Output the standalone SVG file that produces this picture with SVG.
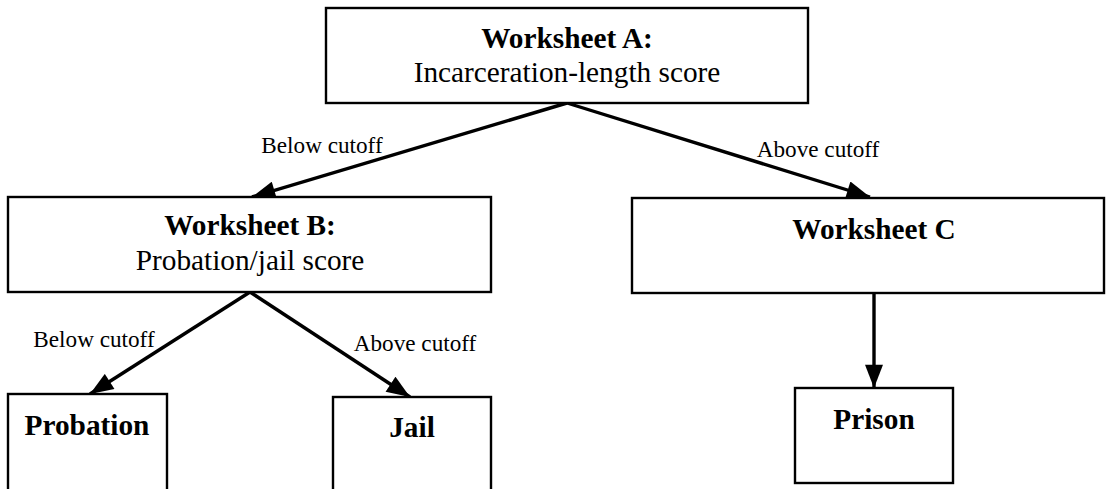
<svg xmlns="http://www.w3.org/2000/svg" width="1106" height="489" viewBox="0 0 1106 489">
<defs>
<style>
.box{fill:#fff;stroke:#000;stroke-width:2.4}
.t{font-family:"Liberation Serif","Times New Roman",serif;fill:#000;text-anchor:middle}
.b{font-weight:bold;font-size:29.3px}
.r{font-size:29.3px}
.lab{font-family:"Liberation Serif","Times New Roman",serif;font-size:23.2px;fill:#000;text-anchor:middle}
.c{fill:none;stroke:#000;stroke-width:3.4}
</style>
<marker id="ah" markerUnits="userSpaceOnUse" markerWidth="24" markerHeight="18" refX="22" refY="8.5" orient="auto" viewBox="0 0 22 17">
<path d="M0,0 L22,8.5 L0,17 z" fill="#000"/>
</marker>
</defs>
<rect width="1106" height="489" fill="#fff"/>
<g id="connectors">
<path class="c" d="M567,103 L252,197" marker-end="url(#ah)"/>
<path class="c" d="M567,103 L870,197" marker-end="url(#ah)"/>
<path class="c" d="M250,292 L90,394" marker-end="url(#ah)"/>
<path class="c" d="M250,292 L410,397" marker-end="url(#ah)"/>
<path class="c" d="M874,293 L874,388" marker-end="url(#ah)"/>
<text class="lab" x="322" y="153">Below cutoff</text>
<text class="lab" x="818" y="157">Above cutoff</text>
<text class="lab" x="94" y="347">Below cutoff</text>
<text class="lab" x="415" y="351">Above cutoff</text>
</g>
<g id="worksheetA">
<rect class="box" x="326" y="8" width="482" height="95"/>
<text class="t b" x="567" y="48">Worksheet A:</text>
<text class="t r" x="567" y="82">Incarceration-length score</text>
</g>
<g id="worksheetB">
<rect class="box" x="8" y="197" width="483" height="95"/>
<text class="t b" x="250" y="235">Worksheet B:</text>
<text class="t r" x="250" y="270">Probation/jail score</text>
</g>
<g id="worksheetC">
<rect class="box" x="632" y="198" width="472" height="95"/>
<text class="t b" x="874" y="239">Worksheet C</text>
</g>
<g id="probation">
<rect class="box" x="8" y="394" width="159" height="100"/>
<text class="t b" x="87" y="435">Probation</text>
</g>
<g id="jail">
<rect class="box" x="333" y="397" width="158" height="97"/>
<text class="t b" x="412" y="437">Jail</text>
</g>
<g id="prison">
<rect class="box" x="795" y="388" width="158" height="95"/>
<text class="t b" x="874" y="429">Prison</text>
</g>
</svg>
